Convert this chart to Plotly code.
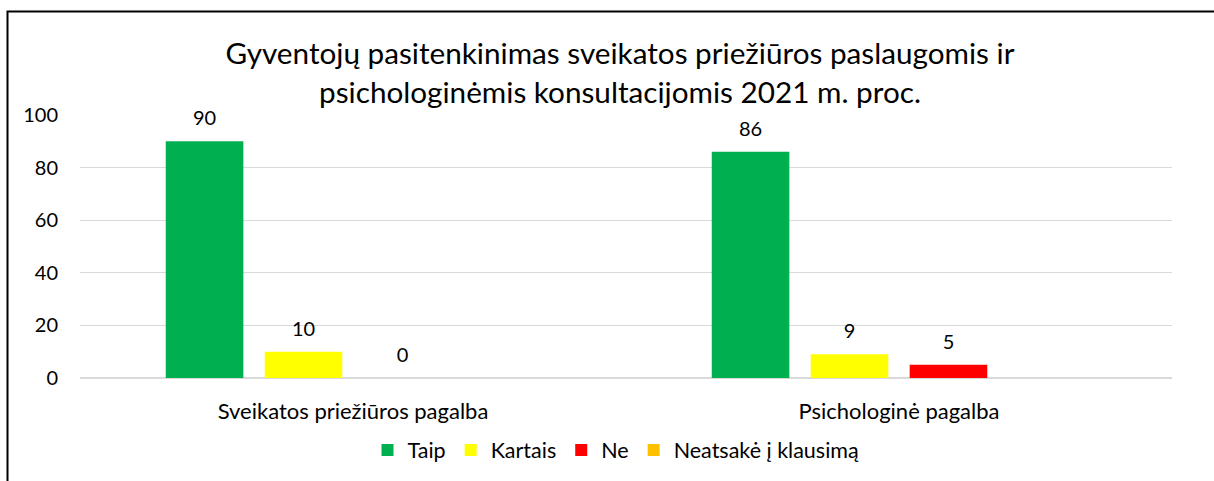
import plotly.graph_objects as go

categories = ["Sveikatos priežiūros pagalba", "Psichologinė pagalba"]
series_names = ["Taip", "Kartais", "Ne", "Neatsakė į klausimą"]
taip = [90, 86]
kartais = [10, 9]
ne = [0, 5]
neatsake = [None, None]
colors = ["#00B050", "#FFFF00", "#FF0000", "#FFC000"]
y_ticks = [0, 20, 40, 60, 80, 100]
title_text = "Gyventojų pasitenkinimas sveikatos priežiūros paslaugomis ir<br>psichologinėmis konsultacijomis 2021 m. proc."

FONT = "Lato, Calibri, Carlito, sans-serif"

W, H = 1214, 481
ml, mr, mt, mb = 80, 42, 115, 103
pw = W - ml - mr
ph = H - mt - mb


def px_x(p):
    return (p - ml) / pw


def px_y(p):
    return (H - mb - p) / ph


fig = go.Figure()
all_series = [taip, kartais, ne, neatsake]
for i, (name, vals, col) in enumerate(zip(series_names, all_series, colors)):
    fig.add_trace(go.Bar(
        x=categories, y=vals, name=name, marker_color=col,
        marker_line_width=0, offsetgroup=str(i),
    ))
for i, (name, vals) in enumerate(zip(series_names, all_series)):
    fig.add_trace(go.Scatter(
        x=categories, y=vals, mode="markers+text", offsetgroup=str(i),
        text=[("" if v is None else str(v)) for v in vals],
        textposition="top center", showlegend=False, hoverinfo="skip",
        marker=dict(size=16, color="rgba(0,0,0,0)"),
        textfont=dict(size=20, color="#000000", family=FONT),
        cliponaxis=False,
    ))

fig.update_layout(
    width=W, height=H,
    margin=dict(l=ml, r=mr, t=mt, b=mb, autoexpand=False),
    paper_bgcolor="white", plot_bgcolor="white",
    font=dict(family=FONT, size=20, color="#000000"),
    barmode="group", bargap=0.275, bargroupgap=0.216,
    scattermode="group",
    title=dict(text=title_text, x=px_x(620), xref="paper", xanchor="center",
               y=1 - 64 / H, yref="container", yanchor="middle",
               font=dict(size=29.7, family=FONT, color="#000000")),
    showlegend=True,
    legend=dict(orientation="h", x=px_x(616), xanchor="center", y=px_y(450), yanchor="middle",
                font=dict(size=21.5, family=FONT), traceorder="normal",
                itemwidth=30, bgcolor="rgba(0,0,0,0)"),
    yaxis=dict(range=[0, 100], tickvals=y_ticks, showgrid=True, gridcolor="#D9D9D9",
               gridwidth=1, zeroline=True, zerolinecolor="#D9D9D9", zerolinewidth=2,
               showline=False, ticks="", tickfont=dict(size=20), ticklabelstandoff=21),
    xaxis=dict(showline=False, ticks="", tickfont=dict(size=22), ticklabelstandoff=18),
    shapes=[dict(type="rect", xref="paper", yref="paper",
                 x0=px_x(7.5), y0=px_y(500), x1=px_x(1240), y1=px_y(11.5),
                 line=dict(color="black", width=2), fillcolor="rgba(0,0,0,0)", layer="above")],
)

fig.write_html(
    "out.html",
    config={"displayModeBar": False},
    post_script="document.body.style.margin='0';document.body.style.overflow='hidden';",
)
